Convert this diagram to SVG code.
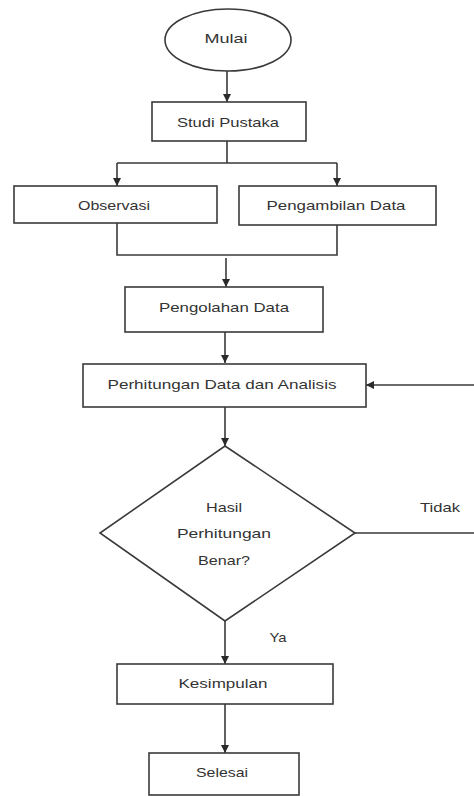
<svg xmlns="http://www.w3.org/2000/svg" width="474" height="796" viewBox="0 0 474 796">
<style>
.shape{fill:#fff;stroke:#3a3a3a;stroke-width:1.6}
.line{fill:none;stroke:#3a3a3a;stroke-width:1.6}
.arrow{fill:none;stroke:#3a3a3a;stroke-width:1.6;marker-end:url(#ah)}
text{font-family:"Liberation Sans","Open Sans",Arial,sans-serif;font-size:13.5px;fill:#333;text-anchor:middle}
</style>
<defs>
<marker id="ah" markerUnits="userSpaceOnUse" markerWidth="10" markerHeight="10" refX="8" refY="4" orient="auto">
<path d="M0,0 L8,4 L0,8 Z" fill="#2a2a2a"/>
</marker>
</defs>
<rect width="474" height="796" fill="#fff"/>
<g id="connectors">
<path class="arrow" d="M227,71 V102"/>
<path class="line" d="M227,141 V163 M117,163 H337"/>
<path class="arrow" d="M117,163 V186"/>
<path class="arrow" d="M337,163 V186"/>
<path class="line" d="M117,223 V255 H337 V225"/>
<path class="arrow" d="M226,258 V287"/>
<path class="arrow" d="M225,332 V363"/>
<path class="arrow" d="M225,407 V446"/>
<path class="arrow" d="M225,621 V664"/>
<path class="arrow" d="M225,704 V753"/>
<path class="arrow" d="M355,533 H477 V385 H366"/>
<text x="440" y="512" textLength="40" lengthAdjust="spacingAndGlyphs">Tidak</text>
<text x="278" y="642" textLength="17" lengthAdjust="spacingAndGlyphs">Ya</text>
</g>
<g id="mulai">
<ellipse class="shape" cx="228" cy="40" rx="63" ry="31"/>
<text x="226" y="43" textLength="43" lengthAdjust="spacingAndGlyphs">Mulai</text>
</g>
<g id="studi-pustaka">
<rect class="shape" x="152" y="102" width="154" height="39"/>
<text x="228" y="127" textLength="102" lengthAdjust="spacingAndGlyphs">Studi Pustaka</text>
</g>
<g id="observasi">
<rect class="shape" x="14" y="186" width="203" height="37"/>
<text x="114" y="210" textLength="72" lengthAdjust="spacingAndGlyphs">Observasi</text>
</g>
<g id="pengambilan-data">
<rect class="shape" x="239" y="186" width="197" height="39"/>
<text x="336" y="210" textLength="139" lengthAdjust="spacingAndGlyphs">Pengambilan Data</text>
</g>
<g id="pengolahan-data">
<rect class="shape" x="125" y="287" width="198" height="45"/>
<text x="224" y="312" textLength="130" lengthAdjust="spacingAndGlyphs">Pengolahan Data</text>
</g>
<g id="perhitungan">
<rect class="shape" x="83" y="364" width="283" height="43"/>
<text x="222" y="389" textLength="229" lengthAdjust="spacingAndGlyphs">Perhitungan Data dan Analisis</text>
</g>
<g id="keputusan">
<polygon class="shape" points="225,446 355,533 225,621 100,533"/>
<text x="224" y="512" textLength="36" lengthAdjust="spacingAndGlyphs">Hasil</text>
<text x="224" y="538" textLength="94" lengthAdjust="spacingAndGlyphs">Perhitungan</text>
<text x="224" y="565" textLength="52" lengthAdjust="spacingAndGlyphs">Benar?</text>
</g>
<g id="kesimpulan">
<rect class="shape" x="117" y="664" width="216" height="40"/>
<text x="223" y="688" textLength="89" lengthAdjust="spacingAndGlyphs">Kesimpulan</text>
</g>
<g id="selesai">
<rect class="shape" x="149" y="753" width="150" height="42"/>
<text x="222" y="777" textLength="52" lengthAdjust="spacingAndGlyphs">Selesai</text>
</g>
</svg>
